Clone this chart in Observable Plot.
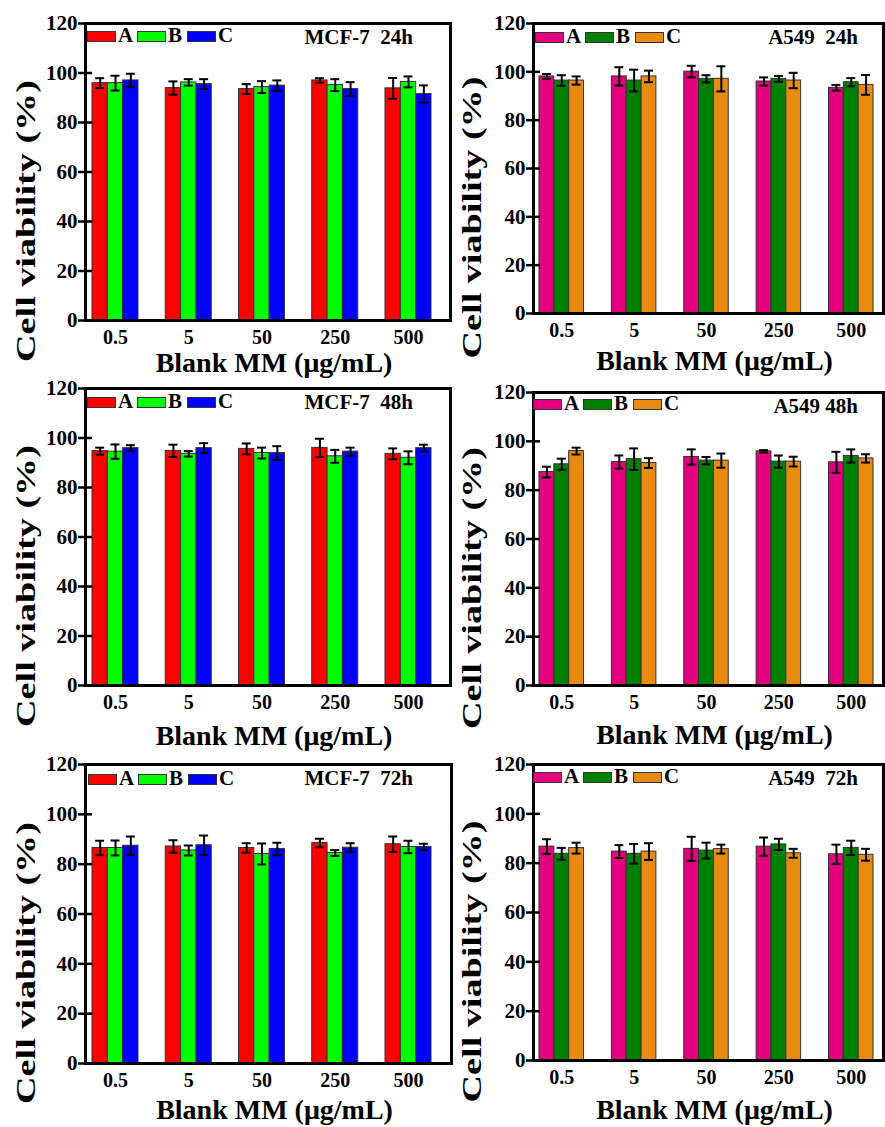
<!DOCTYPE html>
<html><head><meta charset="utf-8">
<script src="https://cdn.jsdelivr.net/npm/d3@7"></script>
<script src="https://cdn.jsdelivr.net/npm/@observablehq/plot@0.6"></script>
<style>
body{margin:0;background:#fff;}
#fig{position:relative;width:885px;height:1127px;overflow:hidden;font-family:"Liberation Serif","Times New Roman",serif;font-weight:bold;color:#000;}
.panel{position:absolute;}
.legend{position:absolute;display:flex;align-items:flex-end;height:14px;}
.item{display:flex;align-items:flex-end;width:50px;}
.sw{width:27px;height:9px;border:1px solid #333;}
.lt{font-size:21px;line-height:14px;margin-left:2px;}
.ttl{position:absolute;font-size:21px;white-space:pre;line-height:21px;}
</style></head>
<body><div id="fig"></div>
<script>
// ---- data ----
const concentrations = ["0.5", "5", "50", "250", "500"];
const groups = ["A", "B", "C"];
const yTicks = [0, 20, 40, 60, 80, 100, 120];
const mcfColors = ["#FF0000", "#00FF00", "#0000FF"];
const a549Colors = ["#E4007F", "#008000", "#E98B10"];

// rows: A, B, C ; columns: concentrations
const mcf7_24h_mean = [[95.9, 93.9, 93.5, 97.0, 93.8], [95.9, 96.2, 94.3, 95.1, 96.4], [97.0, 95.5, 94.9, 93.5, 91.5]];
const mcf7_24h_err  = [[2.0, 2.7, 2.0, 0.9, 4.2], [3.0, 1.3, 2.4, 2.4, 2.2], [2.7, 2.0, 2.1, 2.8, 3.5]];
const a549_24h_mean = [[98.1, 98.1, 100.1, 96.0, 93.4], [96.4, 96.4, 97.1, 97.1, 95.7], [96.4, 98.1, 97.1, 96.4, 94.6]];
const a549_24h_err  = [[1.0, 3.8, 2.4, 1.7, 1.2], [2.2, 4.5, 1.5, 1.2, 1.7], [1.7, 2.4, 5.2, 3.2, 4.1]];
const mcf7_48h_mean = [[94.7, 94.8, 95.6, 96.0, 93.6], [94.5, 93.6, 93.9, 92.6, 92.0], [95.9, 95.9, 93.9, 94.5, 95.9]];
const mcf7_48h_err  = [[1.4, 2.5, 2.2, 3.7, 2.2], [2.9, 1.1, 2.2, 2.6, 2.6], [1.2, 2.0, 2.8, 1.6, 1.4]];
const a549_48h_mean = [[87.4, 91.5, 93.6, 95.9, 91.4], [90.6, 92.7, 92.1, 91.7, 94.0], [96.0, 91.1, 92.1, 91.7, 93.0]];
const a549_48h_err  = [[2.2, 2.7, 3.1, 0.5, 4.3], [2.3, 4.4, 1.5, 2.5, 2.7], [1.4, 2.0, 2.9, 2.0, 1.7]];
const mcf7_72h_mean = [[86.5, 87.1, 86.5, 88.5, 88.0], [86.5, 85.5, 84.1, 84.5, 86.9], [87.4, 87.6, 86.1, 86.6, 86.9]];
const mcf7_72h_err  = [[2.9, 2.5, 1.9, 1.7, 3.1], [3.0, 2.0, 4.2, 1.2, 2.5], [3.7, 3.9, 2.5, 1.8, 1.3]];
const a549_72h_mean = [[86.7, 84.7, 85.8, 86.7, 83.6], [83.8, 83.8, 85.1, 87.6, 86.2], [86.1, 84.7, 85.7, 84.0, 83.4]];
const a549_72h_err  = [[3.0, 2.6, 4.9, 3.7, 3.9], [2.4, 4.0, 3.2, 2.3, 2.9], [2.2, 3.4, 1.8, 1.8, 2.4]];

const xTitle = "Blank MM (μg/mL)";
const yTitle = "Cell viability (%)";

// ---- layout ----
const panels = [
  {title: "MCF-7  24h", mean: mcf7_24h_mean, err: mcf7_24h_err, colors: mcfColors,
   left: 0, top: 0, width: 455, height: 375, frame: {l: 85, r: 450, t: 23, b: 320}, xr: [92, 431], pi: 0.372,
   xLabDy: 43, yLabX: 26, legend: [87, 31], titleRight: 413},
  {title: "A549  24h", mean: a549_24h_mean, err: a549_24h_err, colors: a549Colors,
   left: 455, top: 0, width: 430, height: 375, frame: {l: 533, r: 883, t: 23, b: 313}, xr: [539, 873], pi: 0.385,
   xLabDy: 48, yLabX: 472, legend: [535, 32], titleRight: 858},
  {title: "MCF-7  48h", mean: mcf7_48h_mean, err: mcf7_48h_err, colors: mcfColors,
   left: 0, top: 375, width: 455, height: 375, frame: {l: 85, r: 450, t: 388, b: 685}, xr: [92, 431], pi: 0.372,
   xLabDy: 51, yLabX: 26, legend: [87, 397], titleRight: 413},
  {title: "A549 48h", mean: a549_48h_mean, err: a549_48h_err, colors: a549Colors,
   left: 455, top: 375, width: 430, height: 375, frame: {l: 533, r: 883, t: 392, b: 685}, xr: [539, 873], pi: 0.385,
   xLabDy: 50, yLabX: 472, legend: [533, 399], titleRight: 858},
  {title: "MCF-7  72h", mean: mcf7_72h_mean, err: mcf7_72h_err, colors: mcfColors,
   left: 0, top: 750, width: 455, height: 377, frame: {l: 85, r: 451, t: 764, b: 1063}, xr: [92, 431], pi: 0.372,
   xLabDy: 47, yLabX: 26, legend: [88, 774], titleRight: 413},
  {title: "A549  72h", mean: a549_72h_mean, err: a549_72h_err, colors: a549Colors,
   left: 455, top: 750, width: 430, height: 377, frame: {l: 533, r: 883, t: 764, b: 1060}, xr: [539, 873], pi: 0.385,
   xLabDy: 50, yLabX: 472, legend: [533, 772], titleRight: 858}
];

const fig = document.getElementById("fig");

function drawPanel(cfg) {
  const {l, r, t, b} = cfg.frame;
  const mL = l - cfg.left, mR = cfg.left + cfg.width - r, mT = t - cfg.top, mB = cfg.top + cfg.height - b;
  const range = [cfg.xr[0] - cfg.left, cfg.xr[1] - cfg.left];
  const bw = d3.scaleBand().domain(concentrations).range(range).paddingInner(cfg.pi).paddingOuter(0).bandwidth();
  const w = bw / 3;
  const cap = 9;
  const marks = [];
  groups.forEach((g, i) => {
    const data = concentrations.map((c, j) => ({c, v: cfg.mean[i][j], e: cfg.err[i][j]}));
    marks.push(Plot.barY(data, {x: "c", y: "v", fill: cfg.colors[i], stroke: "#333", strokeWidth: 1,
      insetLeft: i * w, insetRight: (2 - i) * w}));
  });
  groups.forEach((g, i) => {
    const data = concentrations.map((c, j) => ({c, v: cfg.mean[i][j], e: cfg.err[i][j]}));
    const capInsetL = i * w + (w - cap) / 2, capInsetR = (2 - i) * w + (w - cap) / 2;
    marks.push(Plot.ruleX(data, {x: "c", y1: d => d.v - d.e, y2: d => d.v + d.e, dx: (i - 1) * w, stroke: "#000", strokeWidth: 2}));
    marks.push(Plot.tickY(data, {x: "c", y: d => d.v - d.e, insetLeft: capInsetL, insetRight: capInsetR, stroke: "#000", strokeWidth: 2}));
    marks.push(Plot.tickY(data, {x: "c", y: d => d.v + d.e, insetLeft: capInsetL, insetRight: capInsetR, stroke: "#000", strokeWidth: 2}));
  });
  // ticks crossing the frame (7px out, 7px in) and labels
  marks.push(Plot.axisY({ticks: yTicks, tickSize: 14, dx: 7, tickFormat: () => "", strokeWidth: 2.5, label: null}));
  marks.push(Plot.axisY({ticks: yTicks, tickSize: 0, tickPadding: 8, fontSize: 21, fontWeight: "bold", label: null}));
  marks.push(Plot.axisX({tickSize: 0, tickPadding: 9, fontSize: 20, fontWeight: "bold", label: null}));
  marks.push(Plot.frame({stroke: "#000", strokeWidth: 3}));
  marks.push(Plot.text([xTitle], {text: d => d, frameAnchor: "bottom", dy: cfg.xLabDy, dx: 6, fontSize: 28, fontWeight: "bold", lineAnchor: "middle", textAnchor: "middle"}));
  marks.push(Plot.text([yTitle], {text: d => d, frameAnchor: "left", dx: (cfg.yLabX - cfg.left) - mL, dy: 49, rotate: -90, fontSize: 27, fontWeight: "bold", lineAnchor: "middle", textAnchor: "middle"}));

  const svg = Plot.plot({
    width: cfg.width, height: cfg.height,
    marginLeft: mL, marginRight: mR, marginTop: mT, marginBottom: mB,
    style: {fontFamily: "'Liberation Serif', 'Times New Roman', serif", fontWeight: "bold", background: "transparent", overflow: "visible", color: "#000"},
    x: {domain: concentrations, range, paddingInner: cfg.pi, paddingOuter: 0, round: false},
    y: {domain: [0, 120]},
    marks
  });
  const wrap = document.createElement("div");
  wrap.className = "panel";
  wrap.style.left = cfg.left + "px"; wrap.style.top = cfg.top + "px";
  wrap.appendChild(svg);
  fig.appendChild(wrap);
  // stretch the rotated y title along its length, as in the original figure
  svg.querySelectorAll("text").forEach(tx => {
    if (tx.textContent === yTitle) {
      const len = tx.getComputedTextLength();
      if (len > 0) {
        const k = 282 / len;
        const tr = tx.getAttribute("transform") || "";
        tx.setAttribute("transform", tr + ` scale(${k.toFixed(3)},1)`);
      }
    }
  });

  // legend inside frame
  const lg = document.createElement("div");
  lg.className = "legend";
  lg.style.left = cfg.legend[0] + "px"; lg.style.top = (cfg.legend[1] - 3) + "px";
  groups.forEach((g, i) => {
    const it = document.createElement("div"); it.className = "item";
    const sw = document.createElement("div"); sw.className = "sw"; sw.style.background = cfg.colors[i];
    const lt = document.createElement("span"); lt.className = "lt"; lt.textContent = g;
    it.appendChild(sw); it.appendChild(lt); lg.appendChild(it);
  });
  fig.appendChild(lg);
  // panel title
  const tt = document.createElement("div");
  tt.className = "ttl"; tt.textContent = cfg.title;
  tt.style.right = (885 - cfg.titleRight) + "px"; tt.style.top = (t + 15 - 11) + "px";
  fig.appendChild(tt);
}
panels.forEach(drawPanel);
</script>
</body></html>
